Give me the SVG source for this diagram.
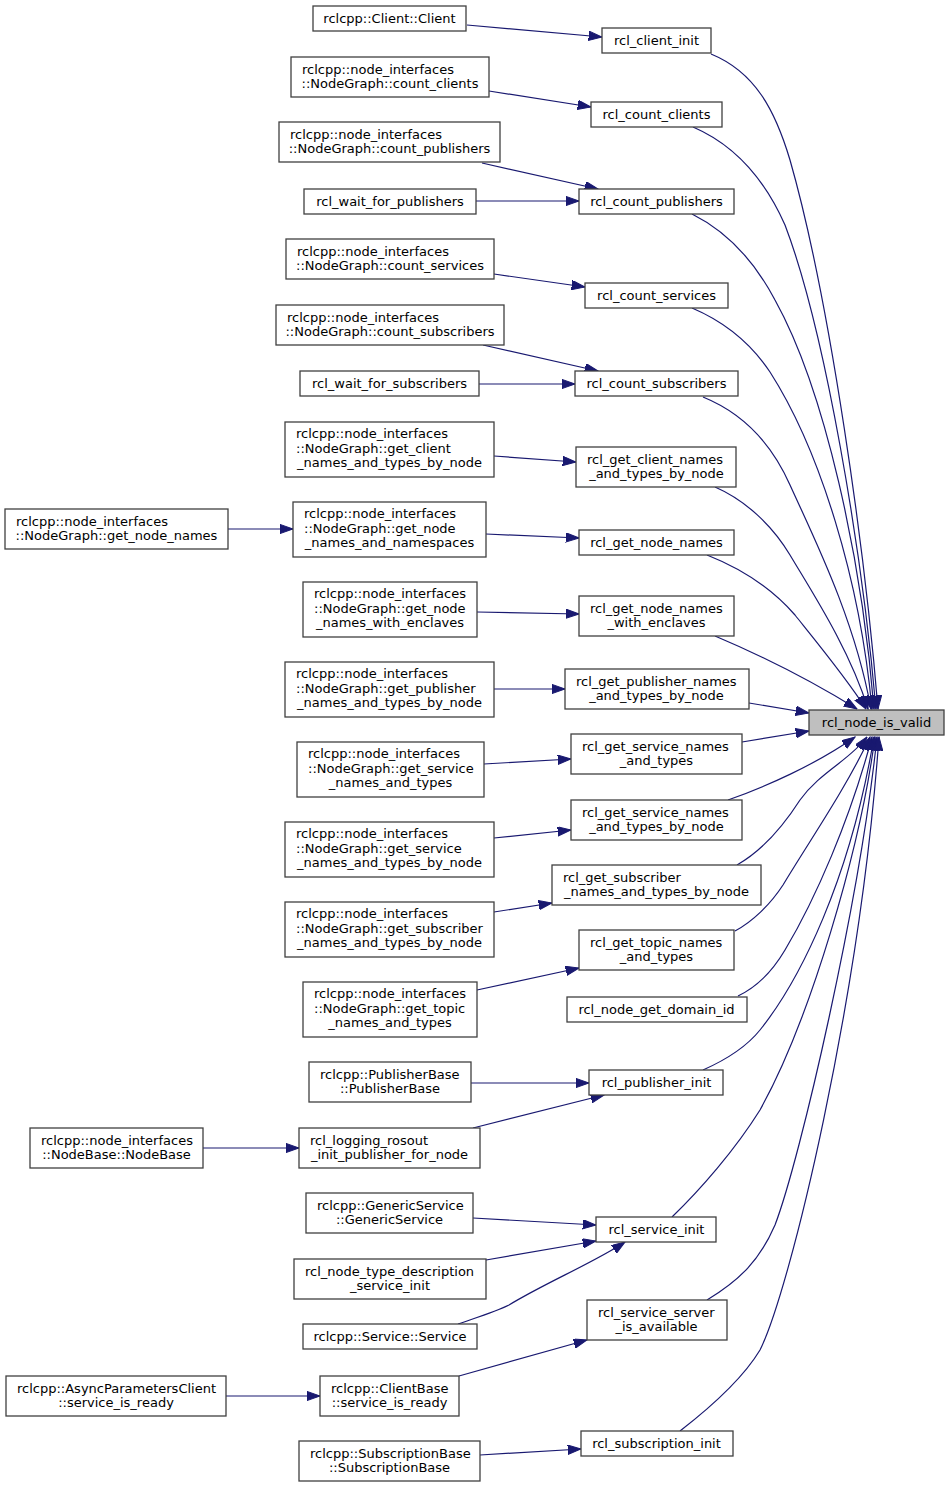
<svg xmlns="http://www.w3.org/2000/svg" width="949" height="1487" viewBox="0 0 949 1487">
<style>
.n rect{fill:#ffffff;stroke:#404040;stroke-width:1.3}
.n text{font-family:"DejaVu Sans","Liberation Sans",sans-serif;font-size:13px;fill:#000000}
.s{text-anchor:start}
.m{text-anchor:middle}
.e path{fill:none;stroke:#191970;stroke-width:1.2;marker-end:url(#ah)}
</style>
<defs>
<marker id="ah" markerUnits="userSpaceOnUse" markerWidth="14" markerHeight="10" refX="13.3" refY="4.7" orient="auto">
<path d="M0,0 L13.3,4.7 L0,9.4 z" fill="#191970" stroke="#191970" stroke-width="1"/>
</marker>
</defs>
<rect x="0" y="0" width="949" height="1487" fill="#ffffff"/>
<g id="connectors" class="e">
<path d="M467,25 L602,37"/>
<path d="M489,91 L591,107"/>
<path d="M482,163 L598,189"/>
<path d="M476,201 L579,201"/>
<path d="M494,274 L585,287"/>
<path d="M483,345 L598,371"/>
<path d="M479,384 L575,384"/>
<path d="M494,456 L576,462"/>
<path d="M228,529 L293,529"/>
<path d="M486,534 L579,538"/>
<path d="M477,612 L579,614"/>
<path d="M494,689 L565,689"/>
<path d="M484,764 L571,759"/>
<path d="M494,838 L571,830"/>
<path d="M494,912 L552,903"/>
<path d="M477,990 L579,968"/>
<path d="M471,1083 L589,1083"/>
<path d="M203,1148 L299,1148"/>
<path d="M473,1128 L604,1095"/>
<path d="M473,1218 L596,1225"/>
<path d="M486,1260 L596,1241"/>
<path d="M458,1324 C475,1318 495,1312 509,1305 C545,1283 595,1262 625,1242"/>
<path d="M459,1376 L587,1340"/>
<path d="M226,1396 L320,1396"/>
<path d="M480,1455 L581,1449"/>
<path d="M711,54 C755,72 775,110 790,160 C830,300 865,550 878,709"/>
<path d="M693,127 C735,145 765,180 785,225 C825,330 862,550 876,709"/>
<path d="M692,214 C728,232 755,262 775,300 C825,390 862,560 874,709"/>
<path d="M692,308 C725,322 752,345 770,372 C820,450 860,580 872,709"/>
<path d="M703,397 C740,412 770,440 790,485 C815,540 855,620 871,709"/>
<path d="M715,487 C745,500 772,525 790,555 C812,592 850,650 868,709"/>
<path d="M707,555 C745,570 775,592 795,615 C815,640 848,680 866,709"/>
<path d="M715,636 C760,655 815,683 857,709"/>
<path d="M749,703 L809,713"/>
<path d="M742,742 L809,731"/>
<path d="M728,800 C765,787 815,765 855,737"/>
<path d="M737,865 C760,852 782,828 800,800 C820,772 850,760 867,737"/>
<path d="M735,931 C752,922 770,905 783,885 C810,840 845,790 870,737"/>
<path d="M738,996 C755,988 772,972 785,950 C815,900 850,820 872,737"/>
<path d="M703,1070 C730,1058 748,1045 760,1030 C800,980 850,880 874,737"/>
<path d="M672,1217 C700,1190 735,1150 760,1110 C810,1020 860,850 875,737"/>
<path d="M707,1300 C740,1280 760,1260 775,1225 C800,1160 860,900 877,737"/>
<path d="M680,1431 C720,1400 745,1375 760,1350 C790,1290 860,1000 879,737"/>
</g>
<g id="rcl_node_is_valid" class="n"><rect x="809" y="710" width="135" height="25" style="fill:#bfbfbf"/><text class="m" x="876.5" y="727">rcl_node_is_valid</text></g>
<g id="rcl_client_init" class="n"><rect x="602" y="28" width="109" height="25"/><text class="m" x="656.5" y="45">rcl_client_init</text></g>
<g id="rcl_count_clients" class="n"><rect x="591" y="102" width="131" height="25"/><text class="m" x="656.5" y="119">rcl_count_clients</text></g>
<g id="rcl_count_publishers" class="n"><rect x="579" y="189" width="155" height="25"/><text class="m" x="656.5" y="206">rcl_count_publishers</text></g>
<g id="rcl_count_services" class="n"><rect x="585" y="283" width="143" height="25"/><text class="m" x="656.5" y="300">rcl_count_services</text></g>
<g id="rcl_count_subscribers" class="n"><rect x="575" y="371" width="163" height="25"/><text class="m" x="656.5" y="388">rcl_count_subscribers</text></g>
<g id="rcl_get_client_names_and_types_by_node" class="n"><rect x="576" y="447" width="160" height="40"/><text class="s" x="587" y="463.5">rcl_get_client_names</text><text class="m" x="656.5" y="478">_and_types_by_node</text></g>
<g id="rcl_get_node_names" class="n"><rect x="579" y="530" width="155" height="25"/><text class="m" x="656.5" y="547">rcl_get_node_names</text></g>
<g id="rcl_get_node_names_with_enclaves" class="n"><rect x="579" y="596" width="155" height="40"/><text class="s" x="590" y="612.5">rcl_get_node_names</text><text class="m" x="656.5" y="627">_with_enclaves</text></g>
<g id="rcl_get_publisher_names_and_types_by_node" class="n"><rect x="565" y="669" width="184" height="40"/><text class="s" x="576" y="685.5">rcl_get_publisher_names</text><text class="m" x="656.5" y="700">_and_types_by_node</text></g>
<g id="rcl_get_service_names_and_types" class="n"><rect x="571" y="734" width="171" height="40"/><text class="s" x="582" y="750.5">rcl_get_service_names</text><text class="m" x="656.5" y="765">_and_types</text></g>
<g id="rcl_get_service_names_and_types_by_node" class="n"><rect x="571" y="800" width="171" height="40"/><text class="s" x="582" y="816.5">rcl_get_service_names</text><text class="m" x="656.5" y="831">_and_types_by_node</text></g>
<g id="rcl_get_subscriber_names_and_types_by_node" class="n"><rect x="552" y="865" width="209" height="40"/><text class="s" x="563" y="881.5">rcl_get_subscriber</text><text class="m" x="656.5" y="896">_names_and_types_by_node</text></g>
<g id="rcl_get_topic_names_and_types" class="n"><rect x="579" y="930" width="155" height="40"/><text class="s" x="590" y="946.5">rcl_get_topic_names</text><text class="m" x="656.5" y="961">_and_types</text></g>
<g id="rcl_node_get_domain_id" class="n"><rect x="567" y="997" width="180" height="25"/><text class="m" x="656.5" y="1014">rcl_node_get_domain_id</text></g>
<g id="rcl_publisher_init" class="n"><rect x="589" y="1070" width="134" height="25"/><text class="m" x="656.5" y="1087">rcl_publisher_init</text></g>
<g id="rcl_service_init" class="n"><rect x="596" y="1217" width="120" height="25"/><text class="m" x="656.5" y="1234">rcl_service_init</text></g>
<g id="rcl_service_server_is_available" class="n"><rect x="587" y="1300" width="140" height="40"/><text class="s" x="598" y="1316.5">rcl_service_server</text><text class="m" x="656.5" y="1331">_is_available</text></g>
<g id="rcl_subscription_init" class="n"><rect x="581" y="1431" width="152" height="25"/><text class="m" x="656.5" y="1448">rcl_subscription_init</text></g>
<g id="client_client" class="n"><rect x="313" y="6" width="153" height="25"/><text class="m" x="389.5" y="23">rclcpp::Client::Client</text></g>
<g id="ng_count_clients" class="n"><rect x="291" y="57" width="198" height="40"/><text class="s" x="302" y="73.5">rclcpp::node_interfaces</text><text class="m" x="390" y="88">::NodeGraph::count_clients</text></g>
<g id="ng_count_publishers" class="n"><rect x="279" y="122" width="221" height="40"/><text class="s" x="290" y="138.5">rclcpp::node_interfaces</text><text class="m" x="389.5" y="153">::NodeGraph::count_publishers</text></g>
<g id="rcl_wait_for_publishers" class="n"><rect x="304" y="189" width="172" height="25"/><text class="m" x="390" y="206">rcl_wait_for_publishers</text></g>
<g id="ng_count_services" class="n"><rect x="286" y="239" width="208" height="40"/><text class="s" x="297" y="255.5">rclcpp::node_interfaces</text><text class="m" x="390" y="270">::NodeGraph::count_services</text></g>
<g id="ng_count_subscribers" class="n"><rect x="276" y="305" width="228" height="40"/><text class="s" x="287" y="321.5">rclcpp::node_interfaces</text><text class="m" x="390" y="336">::NodeGraph::count_subscribers</text></g>
<g id="rcl_wait_for_subscribers" class="n"><rect x="300" y="371" width="179" height="25"/><text class="m" x="389.5" y="388">rcl_wait_for_subscribers</text></g>
<g id="ng_get_client_names" class="n"><rect x="285" y="422" width="209" height="55"/><text class="s" x="296" y="438">rclcpp::node_interfaces</text><text class="s" x="296" y="452.5">::NodeGraph::get_client</text><text class="m" x="389.5" y="467">_names_and_types_by_node</text></g>
<g id="ng_get_node_names_and_namespaces" class="n"><rect x="293" y="502" width="193" height="55"/><text class="s" x="304" y="518">rclcpp::node_interfaces</text><text class="s" x="304" y="532.5">::NodeGraph::get_node</text><text class="m" x="389.5" y="547">_names_and_namespaces</text></g>
<g id="ng_get_node_names_with_enclaves" class="n"><rect x="303" y="582" width="174" height="55"/><text class="s" x="314" y="598">rclcpp::node_interfaces</text><text class="s" x="314" y="612.5">::NodeGraph::get_node</text><text class="m" x="390" y="627">_names_with_enclaves</text></g>
<g id="ng_get_publisher_names" class="n"><rect x="285" y="662" width="209" height="55"/><text class="s" x="296" y="678">rclcpp::node_interfaces</text><text class="s" x="296" y="692.5">::NodeGraph::get_publisher</text><text class="m" x="389.5" y="707">_names_and_types_by_node</text></g>
<g id="ng_get_service_names" class="n"><rect x="297" y="742" width="187" height="55"/><text class="s" x="308" y="758">rclcpp::node_interfaces</text><text class="s" x="308" y="772.5">::NodeGraph::get_service</text><text class="m" x="390.5" y="787">_names_and_types</text></g>
<g id="ng_get_service_names_by_node" class="n"><rect x="285" y="822" width="209" height="55"/><text class="s" x="296" y="838">rclcpp::node_interfaces</text><text class="s" x="296" y="852.5">::NodeGraph::get_service</text><text class="m" x="389.5" y="867">_names_and_types_by_node</text></g>
<g id="ng_get_subscriber_names" class="n"><rect x="285" y="902" width="209" height="55"/><text class="s" x="296" y="918">rclcpp::node_interfaces</text><text class="s" x="296" y="932.5">::NodeGraph::get_subscriber</text><text class="m" x="389.5" y="947">_names_and_types_by_node</text></g>
<g id="ng_get_topic_names" class="n"><rect x="303" y="982" width="174" height="55"/><text class="s" x="314" y="998">rclcpp::node_interfaces</text><text class="s" x="314" y="1012.5">::NodeGraph::get_topic</text><text class="m" x="390" y="1027">_names_and_types</text></g>
<g id="publisherbase" class="n"><rect x="309" y="1062" width="162" height="40"/><text class="s" x="320" y="1078.5">rclcpp::PublisherBase</text><text class="m" x="390" y="1093">::PublisherBase</text></g>
<g id="rcl_logging_rosout_init_publisher_for_node" class="n"><rect x="299" y="1128" width="181" height="40"/><text class="s" x="310" y="1144.5">rcl_logging_rosout</text><text class="m" x="389.5" y="1159">_init_publisher_for_node</text></g>
<g id="genericservice" class="n"><rect x="306" y="1193" width="167" height="40"/><text class="s" x="317" y="1209.5">rclcpp::GenericService</text><text class="m" x="389.5" y="1224">::GenericService</text></g>
<g id="rcl_node_type_description_service_init" class="n"><rect x="294" y="1259" width="192" height="40"/><text class="s" x="305" y="1275.5">rcl_node_type_description</text><text class="m" x="390" y="1290">_service_init</text></g>
<g id="service_service" class="n"><rect x="303" y="1324" width="174" height="25"/><text class="m" x="390" y="1341">rclcpp::Service::Service</text></g>
<g id="clientbase_service_is_ready" class="n"><rect x="320" y="1376" width="139" height="40"/><text class="s" x="331" y="1392.5">rclcpp::ClientBase</text><text class="m" x="389.5" y="1407">::service_is_ready</text></g>
<g id="subscriptionbase" class="n"><rect x="299" y="1441" width="181" height="40"/><text class="s" x="310" y="1457.5">rclcpp::SubscriptionBase</text><text class="m" x="389.5" y="1472">::SubscriptionBase</text></g>
<g id="ng_get_node_names" class="n"><rect x="5" y="509" width="223" height="40"/><text class="s" x="16" y="525.5">rclcpp::node_interfaces</text><text class="m" x="116.5" y="540">::NodeGraph::get_node_names</text></g>
<g id="nodebase" class="n"><rect x="30" y="1128" width="173" height="40"/><text class="s" x="41" y="1144.5">rclcpp::node_interfaces</text><text class="m" x="116.5" y="1159">::NodeBase::NodeBase</text></g>
<g id="asyncparametersclient_service_is_ready" class="n"><rect x="6" y="1376" width="220" height="40"/><text class="s" x="17" y="1392.5">rclcpp::AsyncParametersClient</text><text class="m" x="116" y="1407">::service_is_ready</text></g>
</svg>
